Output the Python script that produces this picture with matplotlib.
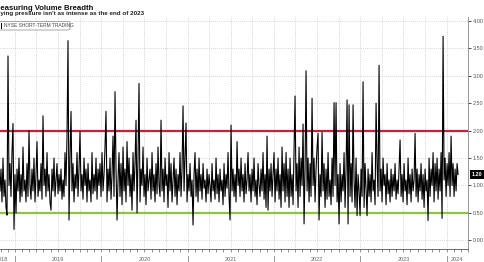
import matplotlib
matplotlib.use("Agg")
import matplotlib.pyplot as plt
import matplotlib.dates as mdates
import matplotlib.transforms as mtransforms
from matplotlib.patches import FancyBboxPatch, Rectangle
import numpy as np
import pandas as pd

plt.rcParams['font.family'] = ['Liberation Sans', 'DejaVu Sans']

title = "Measuring Volume Breadth"
subtitle = "Buying pressure isn't as intense as the end of 2023"
series_name = "NYSE SHORT-TERM TRADING"
start_date = "2018-10-29"
end_date = "2024-02-19"
upper_level = 2.0
lower_level = 0.5
last_value_label = "1.20"
year_labels = ["2018", "2019", "2020", "2021", "2022", "2023", "2024"]

values = [
    0.9, 1.3, 0.7, 1.5, 0.8, 1.1, 0.6, 0.46, 3.36, 1.0,
    1.4, 0.8, 1.6, 2.13, 0.2, 1.2, 0.5, 1.3, 0.9, 1.5,
    0.7, 1.2, 0.8, 1.7, 0.9, 1.1, 0.7, 1.4, 0.8, 2.0,
    1.0, 0.75, 1.3, 0.9, 1.5, 0.7, 1.2, 1.8, 0.8, 1.1,
    0.9, 1.4, 0.75, 2.27, 1.0, 1.3, 0.8, 1.6, 0.9, 1.2,
    0.7, 0.55, 1.3, 0.9, 1.5, 0.8, 1.1, 1.4, 0.85, 1.2,
    0.9, 1.3, 0.75, 1.1, 0.8, 1.6, 1.0, 1.9, 3.64, 0.37,
    1.5, 2.35, 0.9, 1.4, 0.7, 1.2, 0.95, 1.6, 0.8, 1.3,
    1.98, 0.9, 1.2, 0.75, 1.5, 1.0, 1.3, 0.7, 1.4, 0.9,
    1.1, 0.7, 1.6, 0.85, 1.2, 0.9, 1.5, 0.75, 1.3, 1.0,
    1.4, 0.8, 1.6, 0.9, 1.2, 1.7, 2.35, 0.7, 1.3, 0.9,
    1.5, 0.75, 1.2, 1.9, 0.8, 2.71, 1.3, 0.37, 1.1, 1.6,
    0.8, 1.4, 0.65, 1.7, 0.9, 1.3, 0.7, 1.8, 1.0, 1.5,
    0.8, 1.2, 0.55, 1.6, 0.9, 1.4, 2.19, 0.5, 1.5, 2.86,
    0.7, 1.3, 1.0, 1.7, 0.8, 1.2, 0.65, 1.5, 0.9, 1.1,
    1.3, 0.75, 1.6, 0.9, 1.2, 0.7, 1.4, 0.85, 1.7, 1.0,
    0.8, 2.19, 0.9, 1.3, 0.7, 1.5, 1.0, 1.2, 0.6, 1.6,
    0.9, 1.4, 0.7, 1.1, 1.5, 0.8, 1.3, 0.65, 1.2, 0.9,
    1.6, 0.8, 1.3, 2.45, 0.9, 1.5, 2.14, 0.7, 1.2, 0.9,
    1.4, 0.8, 1.1, 0.28, 1.2, 1.6, 0.8, 1.3, 0.7, 1.5,
    0.9, 1.2, 0.75, 1.4, 0.95, 1.1, 0.7, 1.3, 0.85, 1.2,
    1.0, 0.7, 1.4, 0.9, 1.1, 0.75, 1.5, 0.85, 1.2, 0.7,
    1.3, 0.9, 1.1, 0.65, 1.4, 0.8, 1.2, 0.95, 1.6, 0.8,
    0.37, 2.1, 0.9, 1.3, 0.8, 1.2, 0.7, 1.8, 1.0, 1.3,
    0.8, 1.5, 0.9, 1.2, 0.7, 1.4, 0.85, 1.1, 1.6, 0.9,
    1.2, 0.7, 1.3, 0.9, 1.5, 0.8, 1.1, 0.65, 1.4, 1.0,
    0.8, 1.3, 0.9, 1.6, 0.75, 1.2, 0.6, 1.9, 0.55, 1.3,
    0.9, 1.4, 0.8, 1.2, 1.6, 0.7, 1.3, 0.9, 1.5, 0.75,
    1.2, 0.6, 1.7, 0.9, 1.4, 0.7, 1.6, 0.8, 1.3, 0.6,
    1.5, 0.8, 1.2, 0.65, 1.6, 2.63, 0.9, 1.4, 0.6, 1.7,
    0.8, 1.5, 1.0, 2.12, 0.3, 1.3, 3.09, 0.9, 1.5, 0.7,
    1.4, 0.8, 2.59, 1.0, 1.5, 0.7, 1.3, 1.7, 1.95, 0.37,
    1.2, 0.8, 1.97, 0.9, 1.4, 0.6, 1.3, 0.75, 1.6, 0.8,
    1.1, 0.65, 1.5, 0.8, 2.51, 1.0, 2.51, 0.7, 1.2, 0.3,
    1.4, 0.7, 1.2, 0.9, 1.6, 0.6, 1.3, 2.56, 0.3, 2.47,
    0.8, 1.4, 0.7, 2.47, 1.1, 0.6, 1.5, 0.45, 1.2, 0.9,
    0.45, 1.3, 0.8, 2.89, 0.6, 1.4, 0.9, 0.45, 1.3, 0.8,
    1.2, 0.7, 1.6, 0.9, 1.1, 0.65, 2.5, 1.4, 0.8, 3.19,
    0.9, 1.3, 0.7, 1.5, 1.0, 1.2, 0.65, 1.4, 0.85, 1.1,
    0.7, 1.3, 0.8, 1.2, 0.9, 1.4, 0.75, 1.1, 0.85, 1.3,
    1.83, 0.8, 1.2, 0.7, 1.4, 0.9, 1.1, 0.65, 1.5, 0.85,
    1.2, 0.7, 1.3, 0.9, 1.1, 1.95, 0.8, 1.3, 0.7, 1.2,
    0.9, 1.4, 0.75, 1.2, 0.6, 1.3, 0.9, 1.1, 0.36, 1.5,
    0.8, 1.3, 1.0, 1.6, 0.7, 1.4, 0.9, 1.5, 0.75, 1.3,
    0.9, 1.6, 0.4, 3.72, 1.1, 1.5, 0.8, 1.4, 1.0, 1.6,
    0.8, 1.9, 1.0, 1.4, 0.8, 1.3, 0.9, 1.4, 1.2,
]

dates = pd.date_range(start_date, end_date, periods=len(values))

W, H = 485, 262
fig = plt.figure(figsize=(W / 100, H / 100), dpi=100)
ax_left, ax_right, ax_top, ax_bottom = 0, 468, 17, 249
ax = fig.add_axes([ax_left / W, 1 - ax_bottom / H, (ax_right - ax_left) / W, (ax_bottom - ax_top) / H])

x0 = pd.Timestamp("2018-10-29")
x1 = pd.Timestamp("2024-04-01")
ax.set_xlim(x0, x1)
ax.set_ylim(-0.157, 4.07)

# grid
for q in pd.date_range("2018-10-01", "2024-04-01", freq="QS"):
    if x0 < q < x1:
        ax.axvline(q, color="#c8c8c8", lw=0.6, ls=(0, (1, 1.5)), zorder=0)
yt = np.arange(0, 4.01, 0.5)
for yv in yt:
    ax.axhline(yv, color="#c8c8c8", lw=0.6, ls=(0, (1, 1.5)), zorder=0)

ax.axhline(upper_level, color="#c91f3c", lw=1.6, zorder=1)
ax.axhline(lower_level, color="#8cc63f", lw=1.6, zorder=1)
ax.plot(dates, values, color="black", lw=0.8, zorder=2)

# axes styling
for s in ["top", "left"]:
    ax.spines[s].set_visible(False)
ax.spines["right"].set_linestyle((0, (1, 1)))
ax.spines["right"].set_color("#888888")
ax.spines["right"].set_linewidth(0.6)
ax.spines["bottom"].set_color("#555555")
ax.spines["bottom"].set_linewidth(0.6)

ax.yaxis.tick_right()
ax.set_yticks(yt)
ax.set_yticklabels([f"{v:.2f}" for v in yt])
ax.tick_params(axis="y", length=2, width=0.7, pad=1.5, labelsize=4.0,
               labelcolor="#555555", color="#444444")

ax.xaxis.set_major_locator(mdates.MonthLocator())
ax.tick_params(axis="x", which="major", length=1.8, width=0.5, color="#666666",
               labelbottom=False)

# year separators and labels
trans = mtransforms.blended_transform_factory(ax.transData, ax.transAxes)
years = pd.date_range("2019-01-01", "2024-01-01", freq="YS")
for yd in years:
    ax.plot([yd, yd], [-0.03, -0.06], transform=trans, color="#888888",
            lw=0.6, clip_on=False)
bounds = [x0 - pd.Timedelta(days=50)] + list(years) + [x1]
for lab, a, b in zip(year_labels, bounds[:-1], bounds[1:]):
    mid = a + (b - a) / 2
    ax.text(mid, -0.045, lab, transform=trans, ha="center", va="center",
            fontsize=4.0, color="#666666", clip_on=False)

# last value label
transy = mtransforms.blended_transform_factory(ax.transAxes, ax.transData)
ax.text(1.008, values[-1], last_value_label, transform=transy, ha="left", va="center",
        fontsize=4.0, color="white", fontweight="bold",
        bbox=dict(boxstyle="square,pad=0.35", fc="black", ec="none"))

# titles
fig.text(-6 / W, 1 - 8 / H, title, fontsize=5.6, fontweight="bold", ha="left",
         va="center", color="#111111")
fig.text(-8 / W, 1 - 14 / H, subtitle, fontsize=4.5, fontweight="bold", ha="left",
         va="center", color="#222222")

# legend box
box = FancyBboxPatch((-4 / W, 1 - 30 / H), 74 / W, 8.5 / H,
                     boxstyle="round,pad=0,rounding_size=0.004",
                     transform=fig.transFigure, fc="white", ec="#999999", lw=0.6,
                     zorder=5)
fig.add_artist(box)
fig.add_artist(Rectangle((0.5 / W, 1 - 28.5 / H), 1.6 / W, 5.5 / H,
                         transform=fig.transFigure, fc="black", ec="none", zorder=6))
fig.text(4 / W, 1 - 25.7 / H, series_name, fontsize=3.5, color="#444444",
         ha="left", va="center", zorder=6)

fig.savefig("out.png", dpi=100)
